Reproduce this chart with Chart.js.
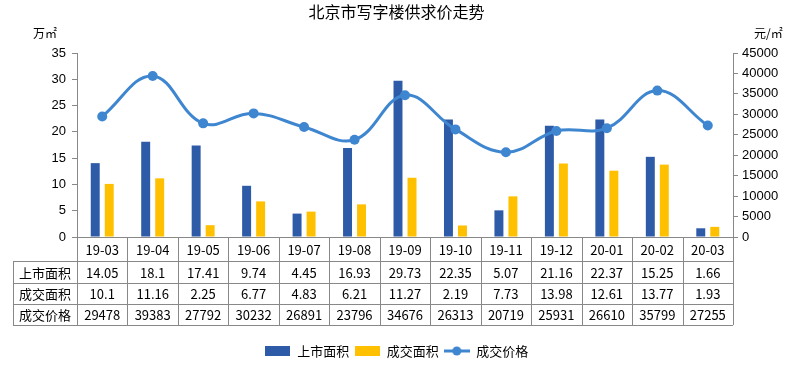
<!DOCTYPE html>
<html lang="zh">
<head>
    <meta charset="UTF-8">
    <title>北京市写字楼供求价走势</title>
    <style>
        body { margin: 0; padding: 0; background: #fff; }
        #wrap { width: 793px; height: 369px; }
    </style>
</head>
<body>
    <div id="wrap"><canvas id="chart" width="793" height="369"></canvas></div>

    <script src="https://cdn.jsdelivr.net/npm/chart.js"></script>
    <script>
        // data
        const months = ['19-03', '19-04', '19-05', '19-06', '19-07', '19-08', '19-09', '19-10', '19-11', '19-12', '20-01', '20-02', '20-03'];
        const supplyArea = [14.05, 18.1, 17.41, 9.74, 4.45, 16.93, 29.73, 22.35, 5.07, 21.16, 22.37, 15.25, 1.66];
        const dealArea = [10.1, 11.16, 2.25, 6.77, 4.83, 6.21, 11.27, 2.19, 7.73, 13.98, 12.61, 13.77, 1.93];
        const dealPrice = [29478, 39383, 27792, 30232, 26891, 23796, 34676, 26313, 20719, 25931, 26610, 35799, 27255];
        const seriesNames = ['上市面积', '成交面积', '成交价格'];

        const BLUE = '#2E5BA8';
        const YELLOW = '#FFC000';
        const LINE = '#3F86D0';
        const GRID = '#888888';
        const CJK = '"Noto Sans CJK SC", sans-serif';
        const NUM = '"Liberation Sans", Arial, sans-serif';

        // small legend symbols
        function boxIcon(color) {
            const c = document.createElement('canvas');
            c.width = 25; c.height = 10;
            const g = c.getContext('2d');
            g.fillStyle = color;
            g.fillRect(0, 0, 25, 10);
            return c;
        }
        function lineIcon() {
            const c = document.createElement('canvas');
            c.width = 26; c.height = 10;
            const g = c.getContext('2d');
            g.strokeStyle = LINE;
            g.lineWidth = 3;
            g.beginPath(); g.moveTo(0, 5); g.lineTo(26, 5); g.stroke();
            g.fillStyle = LINE;
            g.beginPath(); g.arc(13, 5, 4.5, 0, Math.PI * 2); g.fill();
            return c;
        }
        const icons = [lineIcon(), boxIcon(BLUE), boxIcon(YELLOW)];

        // draws the data table under the plot plus the axis units
        const tablePlugin = {
            id: 'dataTable',
            afterDraw(chart) {
                const ctx = chart.ctx;
                const x = chart.scales.x;
                const area = chart.chartArea;
                const left = area.left, right = area.right;
                const rows = [area.bottom, 261, 283, 304, 325];
                const labelLeft = 13;
                const step = (right - left) / months.length;

                ctx.save();
                ctx.strokeStyle = GRID;
                ctx.lineWidth = 1;
                ctx.beginPath();
                ctx.moveTo(left, rows[0] + 0.5); ctx.lineTo(right, rows[0] + 0.5);
                for (let r = 1; r < rows.length; r++) {
                    ctx.moveTo(labelLeft, rows[r] + 0.5); ctx.lineTo(right, rows[r] + 0.5);
                }
                for (let i = 0; i <= months.length; i++) {
                    const vx = Math.round(left + i * step) + 0.5;
                    ctx.moveTo(vx, rows[0]); ctx.lineTo(vx, rows[4]);
                }
                ctx.moveTo(labelLeft + 0.5, rows[1]); ctx.lineTo(labelLeft + 0.5, rows[4]);
                ctx.stroke();

                ctx.fillStyle = '#000';
                ctx.textAlign = 'center';
                ctx.textBaseline = 'middle';
                ctx.font = '13px ' + CJK;
                const body = [supplyArea, dealArea, dealPrice];
                months.forEach((m, i) => {
                    const cx = x.getPixelForValue(i);
                    ctx.fillText(m, cx, (rows[0] + rows[1]) / 2 + 1);
                    body.forEach((arr, r) => {
                        ctx.fillText(String(arr[i]), cx, (rows[r + 1] + rows[r + 2]) / 2 + 1);
                    });
                });
                seriesNames.forEach((name, r) => {
                    ctx.fillText(name, (labelLeft + left) / 2, (rows[r + 1] + rows[r + 2]) / 2 + 1);
                });

                // axis units
                ctx.font = '12px ' + CJK;
                ctx.textAlign = 'left';
                ctx.fillText('万㎡', 33, 33);
                ctx.fillText('元/㎡', 754, 33);
                ctx.restore();
            }
        };

        const plainTicks = (v) => String(v);

        new Chart(document.getElementById('chart'), {
            type: 'bar',
            data: {
                labels: months,
                datasets: [
                    {
                        type: 'line',
                        label: seriesNames[2],
                        data: dealPrice,
                        yAxisID: 'y1',
                        borderColor: LINE,
                        backgroundColor: LINE,
                        borderWidth: 3,
                        pointRadius: 5,
                        pointHoverRadius: 5,
                        pointBackgroundColor: LINE,
                        pointBorderWidth: 0,
                        tension: 0.4,
                        order: 0
                    },
                    {
                        label: seriesNames[0],
                        data: supplyArea,
                        yAxisID: 'y',
                        backgroundColor: BLUE,
                        categoryPercentage: 0.555,
                        barPercentage: 0.64,
                        order: 1
                    },
                    {
                        label: seriesNames[1],
                        data: dealArea,
                        yAxisID: 'y',
                        backgroundColor: YELLOW,
                        categoryPercentage: 0.555,
                        barPercentage: 0.64,
                        order: 1
                    }
                ]
            },
            options: {
                responsive: false,
                animation: false,
                layout: { padding: { top: 0, bottom: 1.5, left: 0, right: 0 } },
                plugins: {
                    title: {
                        display: true,
                        text: '北京市写字楼供求价走势',
                        color: '#000',
                        font: { family: CJK, size: 16, weight: 'normal' },
                        padding: { top: 2, bottom: 31.8 }
                    },
                    legend: {
                        position: 'bottom',
                        labels: {
                            usePointStyle: true,
                            pointStyleWidth: 26,
                            boxHeight: 10,
                            padding: 5,
                            color: '#000',
                            font: { family: CJK, size: 13 },
                            generateLabels(chart) {
                                const items = Chart.defaults.plugins.legend.labels.generateLabels(chart);
                                items.forEach((it) => { it.pointStyle = icons[it.datasetIndex]; });
                                return items;
                            },
                            sort: (a, b) => [1, 2, 0].indexOf(a.datasetIndex) - [1, 2, 0].indexOf(b.datasetIndex)
                        }
                    },
                    tooltip: { enabled: false }
                },
                scales: {
                    x: {
                        grid: { display: false },
                        border: { display: false },
                        ticks: { display: false },
                        afterFit: (scale) => { scale.height = 102.5; }
                    },
                    y: {
                        position: 'left',
                        min: 0,
                        max: 35,
                        ticks: { stepSize: 5, color: '#000', padding: 6, font: { family: NUM, size: 13 }, callback: plainTicks },
                        grid: { drawOnChartArea: false, drawTicks: true, tickLength: 5, color: GRID },
                        border: { display: true, color: GRID },
                        afterFit: (scale) => { scale.width = 77; }
                    },
                    y1: {
                        position: 'right',
                        min: 0,
                        max: 45000,
                        ticks: { stepSize: 5000, color: '#000', padding: 4, font: { family: NUM, size: 13 }, callback: plainTicks },
                        grid: { drawOnChartArea: false, drawTicks: true, tickLength: 5, color: GRID },
                        border: { display: true, color: GRID },
                        afterFit: (scale) => { scale.width = 60; }
                    }
                }
            },
            plugins: [tablePlugin]
        });
    </script>
</body>
</html>
